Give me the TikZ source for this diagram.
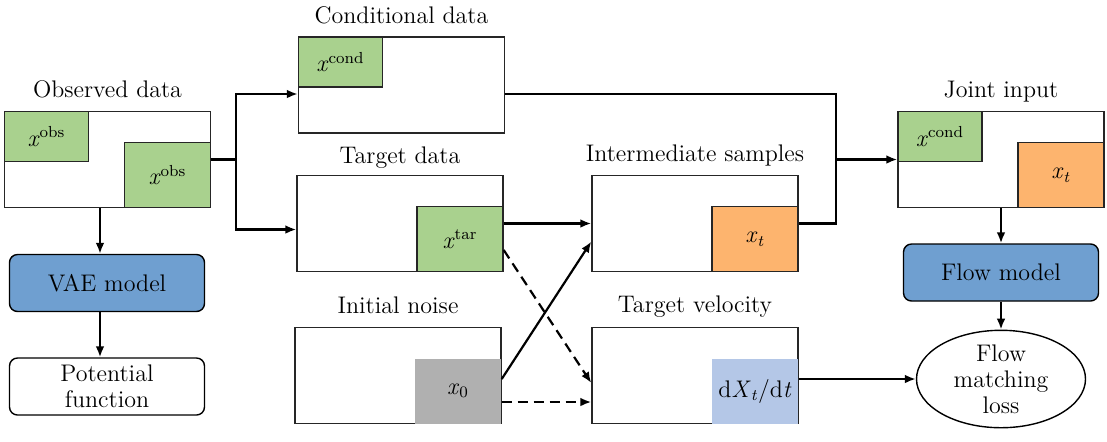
\documentclass[tikz,border=0pt]{standalone}
\usepackage{fontspec}
\usetikzlibrary{positioning,shapes.geometric,arrows.meta}
\definecolor{obsgreen}{HTML}{A9D18E}
\definecolor{xtorange}{HTML}{FDB46E}
\definecolor{noisegray}{HTML}{B0B0B0}
\definecolor{velblue}{HTML}{B4C7E7}
\definecolor{modelblue}{HTML}{6F9FD0}

\begin{document}
\begin{tikzpicture}[x=0.5pt, y=-0.5pt, >={Latex[length=5.5pt,width=4.4pt]},
                    font=\fontsize{12}{13}\selectfont,
                    databox/.style={rectangle, draw=black!85, line width=0.7pt, inner sep=0pt, minimum width=103pt, minimum height=48pt},
                    topcell/.style={rectangle, draw=black!85, line width=0.7pt, inner sep=0pt, minimum width=42pt, minimum height=25pt, anchor=north west},
                    lowcell/.style={rectangle, draw=black!85, line width=0.7pt, inner sep=0pt, minimum width=43pt, minimum height=32.5pt, anchor=south east},
                    modelnode/.style={rectangle, rounded corners=4pt, draw=black, line width=0.7pt, minimum width=97.5pt, minimum height=28.5pt, align=center},
                    lbl/.style={inner sep=0pt, text depth=0pt},
                    link/.style={line width=1.1pt},]
    \useasboundingbox (0,0) rectangle (1107,441);
    % data boxes
    \node[databox]  (obs)   at (107.5,159.5) {};
    \node[databox]  (cond)  at (401.5,85)    {};
    \node[databox]  (tar)   at (400,223.5)   {};
    \node[databox]  (noise) at (398,375.5)   {};
    \node[databox]  (inter) at (695,223.5)   {};
    \node[databox]  (vel)   at (695,375.5)   {};
    \node[databox]  (joint) at (1001,159.5)  {};
    % cells
    \node[topcell, fill=obsgreen]  (obsa)   at (obs.north west)   {\textit{x}\textsuperscript{obs}};
    \node[lowcell, fill=obsgreen]  (obsb)   at (obs.south east)   {\textit{x}\textsuperscript{obs}};
    \node[topcell, fill=obsgreen]  (condx)  at (cond.north west)  {\textit{x}\textsuperscript{cond}};
    \node[lowcell, fill=obsgreen]  (tarx)   at (tar.south east)   {\textit{x}\textsuperscript{tar}};
    \node[lowcell, fill=noisegray, draw=none] (noisex) at (noise.south east) {\raisebox{-3pt}{\textit{x}\textsubscript{0}}};
    \node[lowcell, fill=xtorange]  (interx) at (inter.south east) {\raisebox{-3pt}{\textit{x}\textsubscript{\textit{t}}}};
    \node[lowcell, fill=velblue, draw=none] (velx) at (vel.south east) {\raisebox{-3pt}{d\textit{X}\textsubscript{\textit{t}}/d\textit{t}}};
    \node[topcell, fill=obsgreen]  (jointa) at (joint.north west) {\textit{x}\textsuperscript{cond}};
    \node[lowcell, fill=xtorange]  (jointb) at (joint.south east) {\textit{x}\textsubscript{\textit{t}}};
    % labels
    \node[lbl, above=6.5pt of obs]   (obslbl)   {Observed data};
    \node[lbl, above=6pt of cond]    (condlbl)  {Conditional data};
    \node[lbl, above=5.5pt of tar]   (tarlbl)   {Target data};
    \node[lbl, above=6.5pt of noise] (noiselbl) {Initial noise};
    \node[lbl, above=6.5pt of inter] (interlbl) {Intermediate samples};
    \node[lbl, above=7pt of vel]     (vellbl)   {Target velocity};
    \node[lbl, above=6.5pt of joint] (jointlbl) {Joint input};
    % models
    \node[modelnode, fill=modelblue] (vae)  at (107,283)    {VAE model};
    \node[modelnode, fill=white]     (pot)  at (107,386.5)  {Potential\\function};
    \node[modelnode, fill=modelblue] (flow) at (1001,272.5) {Flow model};
    \node[ellipse, draw=black, line width=0.7pt, inner sep=0pt, minimum width=84.5pt, minimum height=42pt, align=center] (loss) at (1001,379) {Flow\\matching\\loss};
    % lines
    \coordinate (split) at (236,159.5);
    \coordinate (merge) at (836,159.5);
    \draw[link] (obs.east) -- (split);
    \draw[link,->] (split) |- ([yshift=-4.5pt]cond.west);
    \draw[link,->] (split) |- ([yshift=-3pt]tar.west);
    \draw[link,->] ([xshift=-3.5pt]vae.north |- obs.south) -- ([xshift=-3.5pt]vae.north);
    \draw[link,->] ([xshift=-3.5pt]vae.south) -- ([xshift=-3.5pt]pot.north);
    \draw[link,->] (tarx.east |- inter.west) -- (inter.west);
    \draw[link,->] ([yshift=6pt]noisex.east) -- ([yshift=-9pt]inter.west);
    \draw[link,->, dash pattern=on 5pt off 3pt] ([yshift=-5.5pt]tarx.east) -- ([yshift=-3.75pt]vel.west);
    \draw[link,->, dash pattern=on 5pt off 3pt] ([yshift=-5.5pt]noisex.east) -- ([yshift=-5.5pt]noisex.east -| vel.west);
    \draw[link] ([yshift=-4.5pt]cond.east) -| (merge) |- (inter.east);
    \draw[link,->] (merge) -- (joint.west);
    \draw[link,->] (joint.south) -- (flow.north);
    \draw[link,->] (flow.south) -- (loss.north);
    \draw[link,->] (velx.east |- loss.west) -- (loss.west);
\end{tikzpicture}
\end{document}
